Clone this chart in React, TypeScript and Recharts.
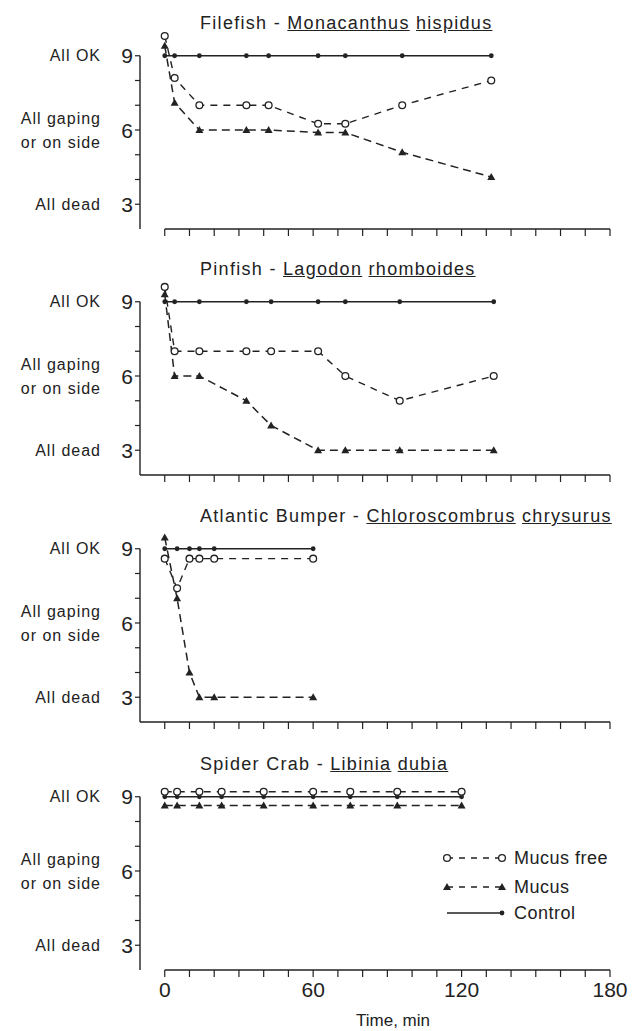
import React from 'react';
import { LineChart, Line, XAxis, YAxis, ReferenceLine } from 'recharts';

// minutes after exposure, condition score (9 = all OK, 3 = all dead)
const filefishTimes = [0, 4, 14, 33, 42, 62, 73, 96, 132];
const filefishFree = [9.8, 8.1, 7.0, 7.0, 7.0, 6.25, 6.25, 7.0, 8.0];
const filefishMucus = [9.4, 7.1, 6.0, 6.0, 6.0, 5.9, 5.9, 5.1, 4.1];
const filefishControl = [9, 9, 9, 9, 9, 9, 9, 9, 9];

const pinfishTimes = [0, 4, 14, 33, 43, 62, 73, 95, 133];
const pinfishFree = [9.6, 7.0, 7.0, 7.0, 7.0, 7.0, 6.0, 5.0, 6.0];
const pinfishMucus = [9.3, 6.0, 6.0, 5.0, 4.0, 3.0, 3.0, 3.0, 3.0];
const pinfishControl = [9, 9, 9, 9, 9, 9, 9, 9, 9];

const bumperTimes = [0, 5, 10, 14, 20, 60];
const bumperFree = [8.6, 7.4, 8.6, 8.6, 8.6, 8.6];
const bumperMucus = [9.45, 7.0, 4.0, 3.0, 3.0, 3.0];
const bumperControl = [9, 9, 9, 9, 9, 9];

const crabTimes = [0, 5, 14, 23, 40, 60, 75, 94, 120];
const crabFree = [9.2, 9.2, 9.2, 9.2, 9.2, 9.2, 9.2, 9.2, 9.2];
const crabMucus = [8.65, 8.65, 8.65, 8.65, 8.65, 8.65, 8.65, 8.65, 8.65];
const crabControl = [9, 9, 9, 9, 9, 9, 9, 9, 9];

// [text, underlined]
const filefishTitle: [string, boolean][] = [['Filefish - ', false], ['Monacanthus', true], [' ', false], ['hispidus', true]];
const pinfishTitle: [string, boolean][] = [['Pinfish - ', false], ['Lagodon', true], [' ', false], ['rhomboides', true]];
const bumperTitle: [string, boolean][] = [['Atlantic Bumper - ', false], ['Chloroscombrus', true], [' ', false], ['chrysurus', true]];
const crabTitle: [string, boolean][] = [['Spider Crab - ', false], ['Libinia', true], [' ', false], ['dubia', true]];

const xTicks = [0, 10, 20, 30, 40, 50, 60, 70, 80, 90, 100, 110, 120, 130, 140, 150, 160, 170, 180];
const xLabelTicks = [0, 60, 120, 180];
const yTicks = [3, 4, 5, 6, 7, 8, 9];
const yTickLabels: Record<number, string[]> = {
  9: ['All OK'],
  6: ['All gaping', 'or on side'],
  3: ['All dead'],
};
const xAxisTitle = 'Time, min';
const seriesNames = { free: 'Mucus free', mucus: 'Mucus', control: 'Control' };

const INK = '#222';
const FONT = '"Liberation Sans", Arial, sans-serif';

const FreeDot = (p: any) => {
  if (p.cx == null || p.cy == null) return <g key={`f${p.index}`} />;
  return <circle key={`f${p.index}`} cx={p.cx} cy={p.cy} r={3.4} fill="#fff" stroke={INK} strokeWidth={1.3} />;
};

const triPath = (cx: number, cy: number) => `M${cx},${cy - 4} L${cx + 4},${cy + 3} L${cx - 4},${cy + 3} Z`;

const MucusDot = (p: any) => {
  if (p.cx == null || p.cy == null) return <g key={`m${p.index}`} />;
  return <path key={`m${p.index}`} d={triPath(p.cx, p.cy)} fill={INK} />;
};

const ControlDot = (p: any) => {
  if (p.cx == null || p.cy == null) return <g key={`c${p.index}`} />;
  return <circle key={`c${p.index}`} cx={p.cx} cy={p.cy} r={2.4} fill={INK} />;
};

const YTick = (props: any) => {
  const { y, payload } = props;
  const lines = yTickLabels[payload.value];
  if (!lines) return <g />;
  return (
    <g fill={INK} fontFamily={FONT}>
      <text x={133} y={y} textAnchor="end" dominantBaseline="central" fontSize={21}>
        {payload.value}
      </text>
      {lines.map((s, i) => (
        <text
          key={i}
          x={101}
          y={y + (i - (lines.length - 1) / 2) * 24}
          textAnchor="end"
          dominantBaseline="central"
          fontSize={16}
          letterSpacing={1}
        >
          {s}
        </text>
      ))}
    </g>
  );
};

const makeXTick = (show: boolean) => (props: any) => {
  const { x, y, payload } = props;
  if (!show || !xLabelTicks.includes(payload.value)) return <g />;
  return (
    <text x={x} y={y + 18} textAnchor="middle" fill={INK} fontFamily={FONT} fontSize={21}>
      {payload.value}
    </text>
  );
};

interface PanelProps {
  title: [string, boolean][];
  times: number[];
  free: number[];
  mucus: number[];
  control: number[];
  top: number;
  axisStart: number;
  bottom?: boolean;
}

function Panel({ title, times, free, mucus, control, top, axisStart, bottom }: PanelProps) {
  const data = times.map((t, i) => ({ t, free: free[i], mucus: mucus[i], control: control[i] }));
  const xh = bottom ? 60 : 12;
  return (
    <div style={{ position: 'absolute', left: 0, top }}>
      <LineChart width={635} height={30 + 198 + xh} data={data} margin={{ top: 30, right: 25, bottom: 0, left: 0 }}>
        <XAxis
          dataKey="t"
          type="number"
          domain={[-10, 180]}
          ticks={xTicks}
          interval={0}
          axisLine={false}
          tickSize={7}
          tickLine={{ stroke: INK, strokeWidth: 1.2 }}
          tick={makeXTick(!!bottom)}
          height={xh}
          label={
            bottom
              ? { value: xAxisTitle, position: 'insideBottom', offset: 4, dx: 18, fill: INK, fontSize: 17, fontFamily: FONT }
              : undefined
          }
        />
        <YAxis
          type="number"
          domain={[2, 10]}
          ticks={yTicks}
          interval={0}
          width={140}
          axisLine={false}
          tickSize={5}
          tickLine={{ stroke: INK, strokeWidth: 1.2 }}
          tick={<YTick />}
        />
        <ReferenceLine segment={[{ x: -10, y: 2 }, { x: -10, y: 9 }]} stroke={INK} strokeWidth={1.4} ifOverflow="visible" />
        <ReferenceLine segment={[{ x: axisStart, y: 2 }, { x: 180, y: 2 }]} stroke={INK} strokeWidth={1.4} ifOverflow="visible" />
        <Line
          dataKey="control"
          name={seriesNames.control}
          stroke={INK}
          strokeWidth={1.4}
          dot={ControlDot}
          activeDot={false}
          isAnimationActive={false}
        />
        <Line
          dataKey="free"
          name={seriesNames.free}
          stroke={INK}
          strokeWidth={1.4}
          strokeDasharray="7 6"
          dot={FreeDot}
          activeDot={false}
          isAnimationActive={false}
        />
        <Line
          dataKey="mucus"
          name={seriesNames.mucus}
          stroke={INK}
          strokeWidth={1.5}
          strokeDasharray="8 5"
          dot={MucusDot}
          activeDot={false}
          isAnimationActive={false}
        />
      </LineChart>
      <div
        style={{
          position: 'absolute',
          left: 200,
          top: 11,
          fontFamily: FONT,
          fontSize: 18,
          letterSpacing: 1.3,
          color: INK,
          whiteSpace: 'nowrap',
          lineHeight: '22px',
        }}
      >
        {title.map(([s, u], i) => (
          <span key={i} style={{ textDecoration: u ? 'underline' : 'none' }}>
            {s}
          </span>
        ))}
      </div>
    </div>
  );
}

function LegendBox() {
  const rows = [
    { key: 'free', y: 858 },
    { key: 'mucus', y: 887 },
    { key: 'control', y: 913 },
  ] as const;
  return (
    <svg width={200} height={110} style={{ position: 'absolute', left: 435, top: 830 }}>
      {rows.map(({ key, y }) => {
        const yy = y - 830;
        const x1 = 12;
        const x2 = 67;
        return (
          <g key={key}>
            <line
              x1={x1}
              x2={x2}
              y1={yy}
              y2={yy}
              stroke={INK}
              strokeWidth={1.4}
              strokeDasharray={key === 'control' ? undefined : '6 6'}
            />
            {key === 'free' && (
              <>
                <circle cx={x1} cy={yy} r={3.4} fill="#fff" stroke={INK} strokeWidth={1.3} />
                <circle cx={x2} cy={yy} r={3.4} fill="#fff" stroke={INK} strokeWidth={1.3} />
              </>
            )}
            {key === 'mucus' && (
              <>
                <path d={triPath(x1, yy)} fill={INK} />
                <path d={triPath(x2, yy)} fill={INK} />
              </>
            )}
            {key === 'control' && <circle cx={x2} cy={yy} r={2.4} fill={INK} />}
            <text x={79} y={yy} dominantBaseline="central" fill={INK} fontFamily={FONT} fontSize={18} letterSpacing={0.5}>
              {seriesNames[key]}
            </text>
          </g>
        );
      })}
    </svg>
  );
}

export default function App() {
  return (
    <div style={{ position: 'absolute', left: 0, top: 0, width: 635, height: 1031, background: '#fff', overflow: 'hidden' }}>
      <Panel title={filefishTitle} times={filefishTimes} free={filefishFree} mucus={filefishMucus} control={filefishControl} top={1} axisStart={0} />
      <Panel title={pinfishTitle} times={pinfishTimes} free={pinfishFree} mucus={pinfishMucus} control={pinfishControl} top={247} axisStart={-10} />
      <Panel title={bumperTitle} times={bumperTimes} free={bumperFree} mucus={bumperMucus} control={bumperControl} top={494} axisStart={-10} />
      <Panel title={crabTitle} times={crabTimes} free={crabFree} mucus={crabMucus} control={crabControl} top={742} axisStart={0} bottom />
      <LegendBox />
    </div>
  );
}
